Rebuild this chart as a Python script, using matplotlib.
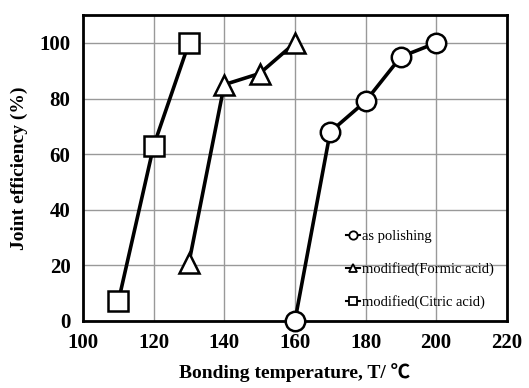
import numpy as np
import matplotlib.pyplot as plt
import matplotlib.lines as mlines

plt.rcParams['font.family'] = ['Liberation Serif', 'Noto Sans CJK JP', 'DejaVu Serif']

# as polishing
temp_pol = [160, 170, 180, 190, 200]
eff_pol = [0, 68, 79, 95, 100]
# modified (formic acid)
temp_form = [130, 140, 150, 160]
eff_form = [21, 85, 89, 100]
# modified (citric acid)
temp_cit = [110, 120, 130]
eff_cit = [7, 63, 100]

labels = ['as polishing', 'modified(Formic acid)', 'modified(Citric acid)']

fig = plt.figure(figsize=(5.29, 3.88), dpi=100)
ax = fig.add_axes([0.157, 0.173, 0.801, 0.788])

kw = dict(color='black', lw=2.6, mfc='white', mec='black', mew=1.8, clip_on=False)
ax.plot(temp_pol, eff_pol, marker='o', ms=14, zorder=3, **kw)
ax.plot(temp_form, eff_form, marker='^', ms=15, zorder=3, **kw)
ax.plot(temp_cit, eff_cit, marker='s', ms=14, zorder=3, **kw)

ax.set_xlim(100, 220)
ax.set_ylim(0, 110)
ax.set_xticks(np.arange(100, 221, 20))
ax.set_yticks(np.arange(0, 101, 20))
ax.grid(True, color='#999999', lw=1)
ax.set_axisbelow(True)
ax.tick_params(length=0, labelsize=15, pad=9)
for t in ax.get_xticklabels() + ax.get_yticklabels():
    t.set_fontweight('bold')
for s in ax.spines.values():
    s.set_linewidth(2)

ax.set_xlabel('Bonding temperature, T/ ℃', fontsize=14, fontweight='bold', labelpad=7)
ax.set_ylabel('Joint efficiency (%)', fontsize=14, fontweight='bold', labelpad=8)

handles = [mlines.Line2D([], [], color='black', lw=1.5, marker=m, ms=6, mfc='white', mec='black', mew=1.3)
           for m in ['o', '^', 's']]
ax.legend(handles, labels, loc='lower right', bbox_to_anchor=(1.0, -0.005), frameon=False,
          fontsize=10.5, handlelength=1.0, handletextpad=0.1, labelspacing=1.3)

fig.savefig('out.png', dpi=100)
